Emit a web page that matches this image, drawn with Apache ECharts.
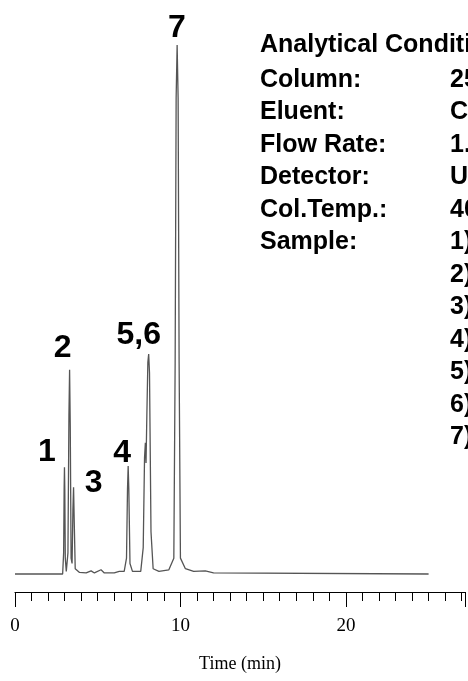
<!DOCTYPE html>
<html><head><meta charset="utf-8">
<script src="https://cdn.jsdelivr.net/npm/echarts@6/dist/echarts.min.js"></script>
<style>html,body{margin:0;padding:0;background:#fff}#c{width:468px;height:681px}</style>
</head><body><div id="c"></div>
<script>
var trace = [[0,0],[2.88,0],[2.94,4],[2.97,16],[2.99,20.2],[3.01,16],[3.04,3],[3.1,0.5],[3.2,4],[3.26,30],[3.30,38.6],[3.34,28],[3.39,3],[3.45,2],[3.5,12],[3.54,16.4],[3.58,10],[3.64,1],[3.9,0.3],[4.3,0.2],[4.6,0.6],[4.8,0.2],[5.2,0.8],[5.4,0.2],[6.0,0.2],[6.3,0.5],[6.6,0.5],[6.74,3],[6.8,16],[6.84,20.4],[6.88,16],[6.95,2],[7.1,0.5],[7.6,0.5],[7.75,5],[7.83,22],[7.88,24.8],[7.92,21],[7.97,30],[8.03,40],[8.08,41.6],[8.13,38],[8.22,8],[8.35,1],[8.7,0.5],[9.3,0.8],[9.6,3],[9.68,40],[9.74,90],[9.8,100],[9.86,90],[9.92,40],[10.0,3],[10.3,1],[10.8,0.5],[11.5,0.6],[12,0.2],[25,0]];
var peakLabels = [["1",2.99,20.2],["2",3.30,38.6],["3",3.54,16.4],["4",6.84,20.4],["5,6",8.08,41.6],["7",9.8,100]];
var condLabels = ["Column:","Eluent:","Flow Rate:","Detector:","Col.Temp.:","Sample:"];
var condValues = ["25","C","1.","U","40","1)","2)","3)","4)","5)","6)","7)"];
var majorTicks = ["0","10","20"];
var chart = echarts.init(document.getElementById('c'));
var F = 'bold 25px Arial';
var g = [{type:'text',x:260,y:45,style:{text:'Analytical Conditions',font:F,fill:'#000',verticalAlign:'middle'}}];
condLabels.forEach(function(t,i){g.push({type:'text',x:260,y:80+i*32.5,style:{text:t,font:F,fill:'#000',verticalAlign:'middle'}});});
condValues.forEach(function(t,i){g.push({type:'text',x:450,y:80+i*32.5,style:{text:t,font:F,fill:'#000',verticalAlign:'middle'}});});
var labelPos = {"1":[48,452],"2":[64,348],"3":[95,483],"4":[125,453],"5,6":[142,335],"7":[181,28]};
chart.setOption({
  animation:false,
  grid:{left:15,right:0,top:45,bottom:89},
  xAxis:[{type:'value',min:0,max:27.2,interval:1,position:'bottom',offset:0,
    axisLine:{onZero:false,lineStyle:{color:'#000',width:1.2}},
    axisTick:{length:9,lineStyle:{color:'#000'}},
    axisLabel:{show:false},splitLine:{show:false}},
   {type:'value',min:0,max:27.2,interval:10,position:'bottom',offset:0,
    axisLine:{show:false,onZero:false},axisTick:{length:15,lineStyle:{color:'#000'}},
    axisLabel:{margin:25,fontFamily:'Liberation Serif',fontSize:19,color:'#000',
      formatter:function(v){return majorTicks.indexOf(String(v))>=0?String(v):'';}},
    splitLine:{show:false},
    name:'Time (min)',nameLocation:'middle',nameGap:63,
    nameTextStyle:{fontFamily:'Liberation Serif',fontSize:18,color:'#000'}}],
  yAxis:{type:'value',min:-3.4,max:100,show:false},
  series:[{type:'line',data:trace,showSymbol:false,lineStyle:{color:'#555',width:1.3},
    markPoint:{symbol:'circle',symbolSize:0,
      data:peakLabels.map(function(p){return {coord:[p[1],p[2]],
        label:{show:true,formatter:p[0],fontFamily:'Arial',fontWeight:'bold',fontSize:32,color:'#000',
          offset:[labelPos[p[0]][0]-(15+p[1]*16.95),labelPos[p[0]][1]-(574-p[2]*5.29)]}};})}}],
  graphic:g
});
</script></body></html>
